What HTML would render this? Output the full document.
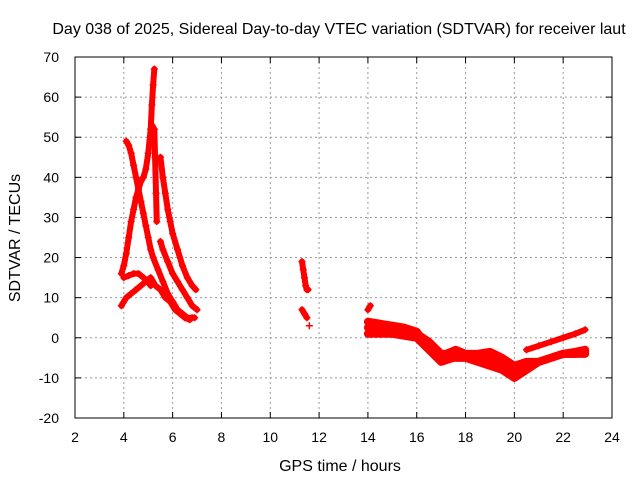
<!DOCTYPE html>
<html><head><meta charset="utf-8"><style>
body{margin:0;background:#fff;}
svg text{font-family:"Liberation Sans",sans-serif;font-size:14px;fill:#000;}
</style></head><body>
<svg width="640" height="480">
<rect width="640" height="480" fill="#fff"/>
<g id="grid"></g>
<rect x="75" y="57" width="537" height="361" fill="none" stroke="#000" stroke-width="1"/>
<g id="ticks"></g>
<g id="marks"></g>
<text x="339" y="34" text-anchor="middle" style="font-size:16px">Day 038 of 2025, Sidereal Day-to-day VTEC variation (SDTVAR) for receiver laut</text>
<text x="340" y="471" text-anchor="middle" style="font-size:16px">GPS time / hours</text>
<text transform="translate(20,238) rotate(-90)" text-anchor="middle" style="font-size:16px">SDTVAR / TECUs</text>
</svg>
<script>
const xTicks=[2,4,6,8,10,12,14,16,18,20,22,24];
const yTicks=[-20,-10,0,10,20,30,40,50,60,70];
const traceA=[[3.9,16],[4.0,18],[4.1,21],[4.2,25],[4.3,29],[4.4,32],[4.5,35],[4.6,37],[4.7,39],[4.8,40],[4.9,42],[5.0,46],[5.1,52],[5.15,58],[5.2,63],[5.25,67]];
const traceB=[[4.1,49],[4.2,48],[4.3,46],[4.4,43],[4.5,40],[4.6,37],[4.7,34],[4.8,31],[4.9,28],[5.0,25],[5.1,22],[5.2,20],[5.4,17],[5.6,14],[5.8,11],[6.0,9],[6.2,7],[6.4,6],[6.6,5],[6.8,5],[6.9,5]];
const traceC=[[5.15,53],[5.25,52],[5.28,45],[5.32,36],[5.35,29]];
const traceD=[[5.5,45],[5.6,40],[5.7,36],[5.8,32],[5.9,29],[6.0,26],[6.2,22],[6.4,18],[6.6,15],[6.8,13],[6.95,12]];
const traceE=[[5.5,24],[5.6,22],[5.8,19],[6.0,16],[6.2,14],[6.4,12],[6.6,10],[6.8,8],[7.0,7]];
const traceF=[[4.0,15],[4.2,15.5],[4.4,16],[4.6,16],[4.8,15],[5.0,14],[5.1,13]];
const traceG=[[3.9,8],[4.1,10],[4.3,11],[4.5,12],[4.7,13],[4.9,14],[5.1,15],[5.3,13],[5.5,12],[5.7,10],[5.9,9],[6.1,7],[6.3,6],[6.5,5],[6.7,4.5]];
const traceH1=[[11.3,19],[11.35,17],[11.4,15],[11.45,13],[11.5,12],[11.55,12]];
const traceH2=[[11.3,7],[11.4,6],[11.5,5]];
const traceH3=[[11.6,3]];
const traceI=[[14.0,7],[14.1,8]];
const bandUpper=[[14,4],[14.5,3.5],[15,3],[15.5,2.5],[16,1.5],[16.3,-1],[16.6,-3],[16.9,-5],[17.2,-4],[17.6,-3],[18,-4],[18.5,-4],[19,-3.5],[19.5,-5],[20,-7],[20.5,-6],[21,-6],[21.5,-5],[22,-4],[22.5,-3.5],[22.9,-3]];
const bandMid=[[14,2.5],[14.5,2.2],[15,2],[15.5,1.5],[16,1],[16.5,-1],[17,-4],[17.5,-4],[18,-4.5],[18.5,-5],[19,-5],[19.5,-6.5],[20,-8],[20.5,-7],[21,-6],[21.5,-5],[22,-4],[22.5,-4],[22.9,-3.5]];
const bandLower=[[14,1],[14.5,1],[15,1],[15.5,0.5],[16,0],[16.5,-3],[17,-6],[17.5,-5],[18,-5],[18.5,-6],[19,-7],[19.5,-8],[20,-10],[20.5,-8],[21,-6],[21.5,-5],[22,-4],[22.5,-4],[22.9,-4]];
const rising=[[20.5,-3],[21,-2],[21.5,-1],[22,0],[22.5,1],[22.9,2]];
const series=[traceA,traceB,traceC,traceD,traceE,traceF,traceG,traceH1,traceH2,traceH3,traceI,bandUpper,bandMid,bandLower,rising];
const X=v=>75+(v-2)*(537/22);
const Y=v=>418-(v+20)*(361/90);
const NS="http://www.w3.org/2000/svg";
const g=document.getElementById('grid'),t=document.getElementById('ticks'),m=document.getElementById('marks');
function mk(tag,attrs,parent){const e=document.createElementNS(NS,tag);for(const k in attrs)e.setAttribute(k,attrs[k]);parent.appendChild(e);return e;}
xTicks.forEach(v=>{
 if(v>2&&v<24){const l=mk('line',{x1:X(v),x2:X(v),y1:57,y2:418,stroke:'#999','stroke-dasharray':'2,3'},g);
 
 }
 mk('line',{x1:X(v),x2:X(v),y1:418,y2:412,stroke:'#000'},t);
 mk('line',{x1:X(v),x2:X(v),y1:57,y2:63,stroke:'#000'},t);
 const tx=mk('text',{x:X(v),y:442,'text-anchor':'middle'},t);tx.textContent=v;
 
 
});
yTicks.forEach(v=>{
 if(v>-20&&v<70){const l=mk('line',{x1:75,x2:612,y1:Y(v),y2:Y(v),stroke:'#999','stroke-dasharray':'2,3'},g);
 
 }
 mk('line',{x1:75,x2:81,y1:Y(v),y2:Y(v),stroke:'#000'},t);
 mk('line',{x1:612,x2:606,y1:Y(v),y2:Y(v),stroke:'#000'},t);
 const tx=mk('text',{x:59,y:Y(v)+5,'text-anchor':'end'},t);tx.textContent=v;
 
 
});
series.forEach((s,i)=>{
 const w=(i>=11&&i<=13)?8:6;
 if(s.length>1){const p=mk('polyline',{points:s.map(d=>X(d[0])+','+Y(d[1])).join(' '),fill:'none',stroke:'#f00','stroke-width':w,'stroke-linejoin':'round','stroke-linecap':'round'},m);
 
 }
 s.forEach(d=>{
  const x=X(d[0]),y=Y(d[1]);
  const pt=mk('path',{d:`M${x-3.5},${y}H${x+3.5}M${x},${y-3.5}V${y+3.5}`,stroke:'#f00','stroke-width':1.5},m);
  
  
 });
});
</script>
</body></html>
